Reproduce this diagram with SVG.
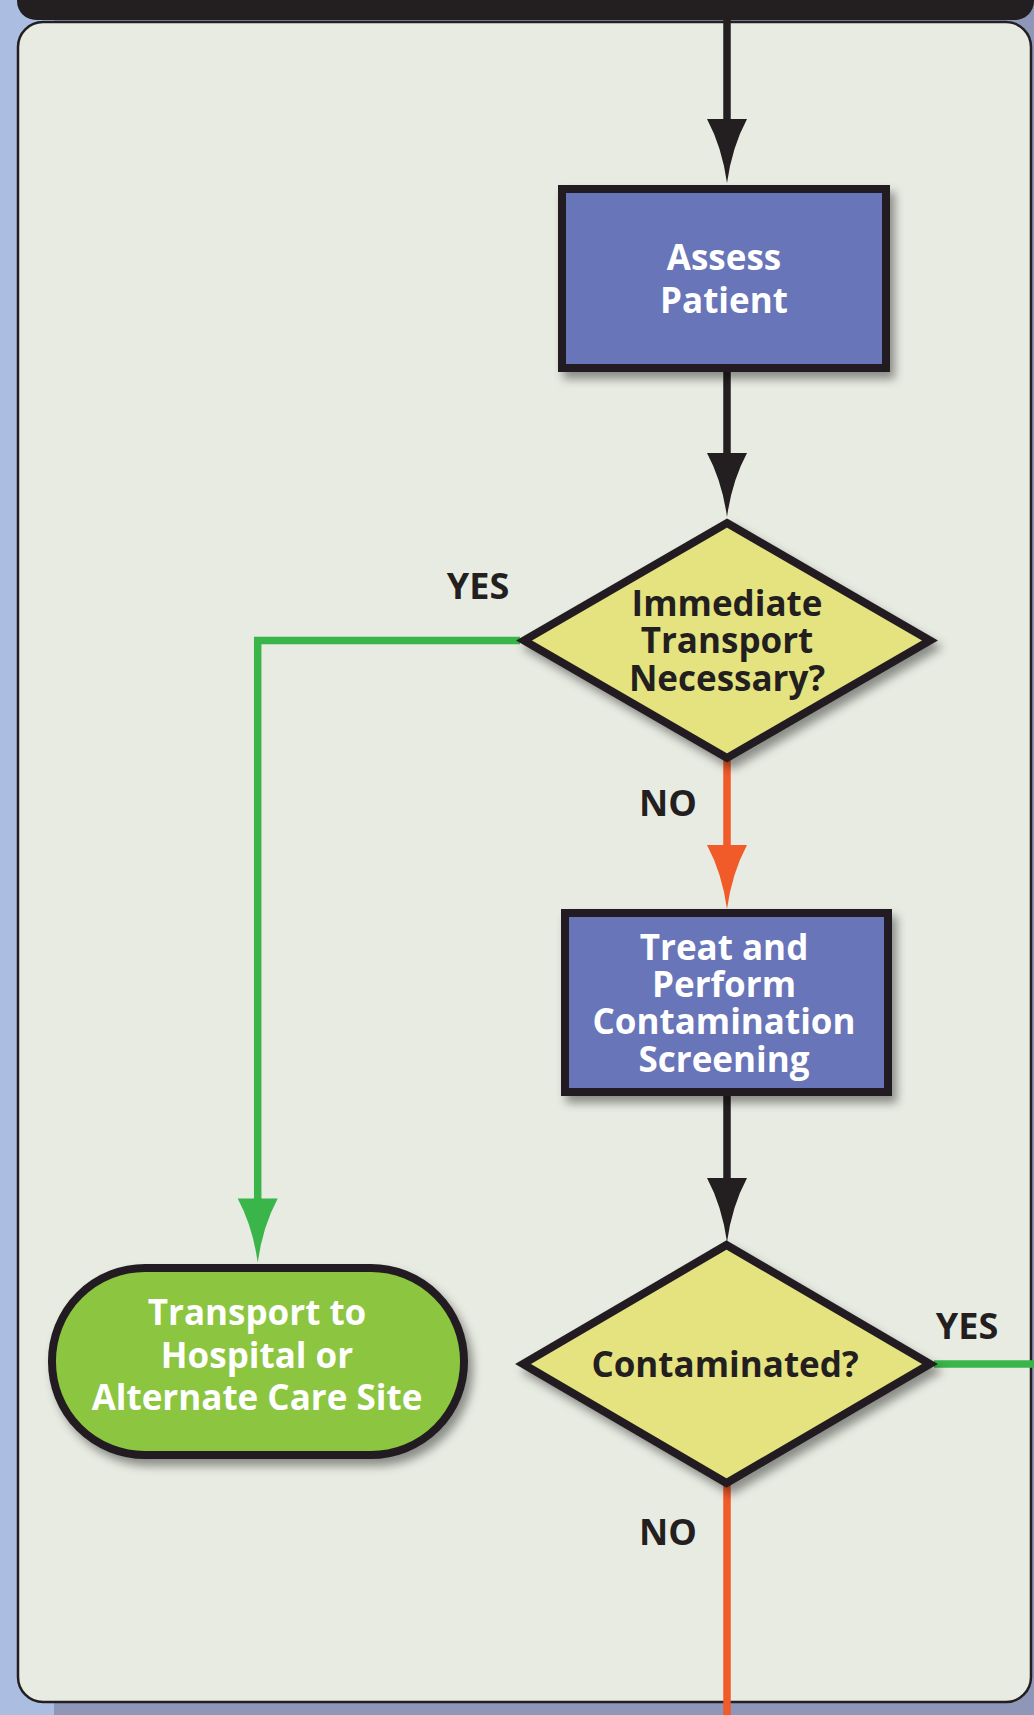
<svg xmlns="http://www.w3.org/2000/svg" xmlns:xlink="http://www.w3.org/1999/xlink" width="1034" height="1715" viewBox="0 0 1034 1715">
  <style>
    .lbl { font-family: "Open Sans", "Liberation Sans", sans-serif; font-weight: 700; font-size: 35px; text-anchor: middle; }
    .white { fill: #ffffff; }
    .dark { fill: #231f20; }
    .box { fill: #6874b8; stroke: #231f20; stroke-width: 8; }
    .dia { fill: #e5e37f; stroke: #231f20; stroke-width: 8; stroke-linejoin: miter; stroke-miterlimit: 10; }
    .pill { fill: #8cc63f; stroke: #231f20; stroke-width: 8; }
    .ln { fill: none; stroke-width: 7.5; stroke-linejoin: miter; }
    .blk { stroke: #231f20; }
    .grn { stroke: #39b54a; }
    .org { stroke: #f15a29; }
  </style>
  <defs>
    <filter id="sh" x="-20%" y="-20%" width="150%" height="150%">
      <feDropShadow dx="5" dy="7" stdDeviation="5" flood-color="#000" flood-opacity="0.4"/>
    </filter>
    <path id="ah" d="M -20 0 L 20 0 Q 5 28 0 64 Q -5 28 -20 0 Z"/>
  </defs>

  <!-- background -->
  <rect x="0" y="0" width="1034" height="1715" fill="#abbde0"/>
  <rect x="54" y="0" width="990" height="1715" fill="#8f97b9"/>
  <rect x="18" y="22" width="1013" height="1680" rx="25" ry="25" fill="#e8ebe2" stroke="#231f20" stroke-width="2.5"/>
  <rect x="17" y="-30" width="1017" height="50" rx="19" ry="19" fill="#231f20"/>

  <!-- connectors -->
  <g id="connectors">
    <line class="ln blk" x1="727" y1="18" x2="727" y2="125"/>
    <use xlink:href="#ah" href="#ah" transform="translate(727,119)" fill="#231f20"/>

    <line class="ln blk" x1="727" y1="370" x2="727" y2="458"/>
    <use xlink:href="#ah" href="#ah" transform="translate(727,453)" fill="#231f20"/>

    <line class="ln org" x1="727" y1="760" x2="727" y2="850"/>
    <use xlink:href="#ah" href="#ah" transform="translate(727,845)" fill="#f15a29"/>

    <line class="ln blk" x1="727" y1="1094" x2="727" y2="1184"/>
    <use xlink:href="#ah" href="#ah" transform="translate(727,1178)" fill="#231f20"/>

    <polyline class="ln grn" points="520,640.5 257.7,640.5 257.7,1204"/>
    <use xlink:href="#ah" href="#ah" transform="translate(257.7,1198.5)" fill="#39b54a"/>

    <line class="ln grn" x1="934" y1="1364" x2="1034" y2="1364"/>
    <line class="ln org" x1="727" y1="1485" x2="727" y2="1715"/>
  </g>

  <!-- nodes -->
  <g id="assess">
    <rect class="box" x="562" y="189" width="324" height="179" filter="url(#sh)"/>
    <text class="lbl white" x="724" y="270">Assess</text>
    <text class="lbl white" x="724" y="313">Patient</text>
  </g>

  <g id="immediate">
    <polygon class="dia" points="727,523 930,640.5 727,758 524,640.5" filter="url(#sh)"/>
    <text class="lbl dark" x="727" y="616">Immediate</text>
    <text class="lbl dark" x="727" y="653">Transport</text>
    <text class="lbl dark" x="727" y="690.5">Necessary?</text>
  </g>

  <g id="treat">
    <rect class="box" x="565" y="913" width="323" height="179" filter="url(#sh)"/>
    <text class="lbl white" x="724" y="960">Treat and</text>
    <text class="lbl white" x="724" y="997">Perform</text>
    <text class="lbl white" x="724" y="1034">Contamination</text>
    <text class="lbl white" x="724" y="1071.5">Screening</text>
  </g>

  <g id="contaminated">
    <polygon class="dia" points="726.5,1245 930,1364 726.5,1483 523,1364" filter="url(#sh)"/>
    <text class="lbl dark" x="725" y="1377">Contaminated?</text>
  </g>

  <g id="transport">
    <rect class="pill" x="52" y="1268" width="412" height="187" rx="93" ry="93" filter="url(#sh)"/>
    <text class="lbl white" x="257" y="1325">Transport to</text>
    <text class="lbl white" x="257" y="1368">Hospital or</text>
    <text class="lbl white" x="257" y="1410">Alternate Care Site</text>
  </g>

  <!-- edge labels -->
  <g id="labels">
    <text class="lbl dark" x="478" y="599" style="font-size:36px">YES</text>
    <text class="lbl dark" x="668" y="816" style="font-size:36px">NO</text>
    <text class="lbl dark" x="967" y="1339" style="font-size:36px">YES</text>
    <text class="lbl dark" x="668" y="1545" style="font-size:36px">NO</text>
  </g>
</svg>
